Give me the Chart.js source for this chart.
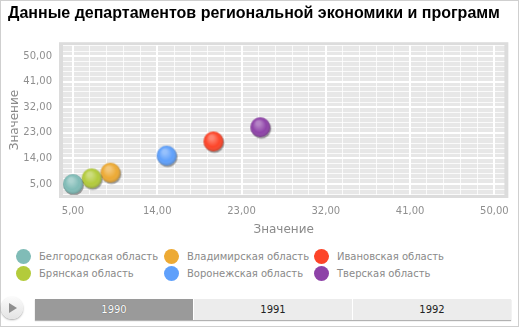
<!DOCTYPE html>
<html>
<head>
<meta charset="utf-8">
<script src="https://cdn.jsdelivr.net/npm/chart.js@4.4.1/dist/chart.umd.min.js"></script>
<style>
  html, body { margin: 0; padding: 0; background: #fff; }
  #wrap { position: relative; width: 519px; height: 327px; overflow: hidden; font-family: "DejaVu Sans", sans-serif; }
  #frame { position: absolute; left: 0; top: 0; width: 517px; height: 325px; border: 1px solid #cfcfcf; }
  #chartBox { position: absolute; left: 0; top: 0; width: 519px; height: 245px; }
  #legend { position: absolute; left: 16px; top: 248px; width: 480px; display: grid; grid-template-columns: 148px 150px 150px; grid-auto-flow: column; grid-template-rows: 17px 17px; }
  .item { display: flex; align-items: center; font-size: 10px; color: #8a8a8a; white-space: nowrap; }
  .dot { width: 15px; height: 15px; border-radius: 50%; margin-right: 8px; }
  #play { position: absolute; left: 1px; top: 297px; width: 22px; height: 22px; border-radius: 50%; background: linear-gradient(#fafafa, #e4e4e4); box-shadow: 0 1px 2px rgba(0,0,0,0.35); }
  #play:after { content: ""; position: absolute; left: 8px; top: 6px; border-left: 8px solid #8f8f8f; border-top: 5px solid transparent; border-bottom: 5px solid transparent; }
  #timeline { position: absolute; left: 35px; top: 299px; width: 476px; height: 21px; display: flex; box-shadow: 0 1px 1px rgba(0,0,0,0.3); }
  .yr { flex: 1; display: flex; align-items: center; justify-content: center; font-size: 10px; background: #ececec; color: #222; border-left: 1px solid #fff; }
  .yr.on { background: #9a9a9a; color: #fff; border-left: none; text-shadow: 0 0 1px #444; }
</style>
</head>
<body>
<div id="wrap">
  <div id="frame"></div>
  <div id="chartBox"><canvas id="chart" width="519" height="245"></canvas></div>
  <div id="legend"></div>
  <div id="play"></div>
  <div id="timeline"></div>
</div>
<script>
const regions = ["Белгородская область", "Брянская область", "Владимирская область",
                 "Воронежская область", "Ивановская область", "Тверская область"];
const xValues = [5, 7, 9, 15, 20, 25];
const yValues = [5, 7, 9, 15, 20, 25];
const colors = ["#80bcb7", "#b3cb3b", "#edaa34", "#5fa0fb", "#fd4428", "#8e42a8"];
const majorTicks = [5, 14, 23, 32, 41, 50];
const years = ["1990", "1991", "1992"];

// shaded ball used as point style
function makeBall(color) {
  const c = document.createElement("canvas");
  c.width = 26; c.height = 26;
  const g = c.getContext("2d");
  g.fillStyle = "rgba(0,0,0,0.35)";
  g.beginPath(); g.arc(14, 14.5, 10, 0, Math.PI * 2); g.fill();
  g.fillStyle = color;
  g.beginPath(); g.arc(13, 13, 10, 0, Math.PI * 2); g.fill();
  const shade = g.createRadialGradient(11, 9, 2, 13, 13, 10.5);
  shade.addColorStop(0, "rgba(255,255,255,0.35)");
  shade.addColorStop(0.6, "rgba(255,255,255,0)");
  shade.addColorStop(1, "rgba(0,0,0,0.25)");
  g.fillStyle = shade;
  g.beginPath(); g.arc(13, 13, 10, 0, Math.PI * 2); g.fill();
  return c;
}

function withMinors(scale) {
  const step = 1.8;
  const vals = [];
  for (let v = majorTicks[0]; v >= scale.min; v -= step) vals.unshift(Math.round(v * 10) / 10);
  for (let v = majorTicks[0] + step; v <= scale.max + 1e-9; v += step) vals.push(Math.round(v * 10) / 10);
  scale.ticks = vals.map(v => ({ value: v }));
}
const isMajor = v => majorTicks.some(m => Math.abs(m - v) < 1e-6);
const fmt = v => isMajor(v) ? v.toFixed(2).replace(".", ",") : "";

const plotFrame = {
  id: "plotFrame",
  beforeDraw(chart) {
    const { ctx, chartArea: a } = chart;
    ctx.save();
    ctx.fillStyle = "#dcdcdc";
    ctx.fillRect(a.left - 4, a.top - 3, a.right - a.left + 8, a.bottom - a.top + 6);
    ctx.fillStyle = "#e7e7e7";
    ctx.fillRect(a.left, a.top, a.right - a.left, a.bottom - a.top);
    ctx.restore();
  }
};

const gridOpts = {
  color: c => isMajor(c.tick.value) ? "#ffffff" : "rgba(255,255,255,0.8)",
  lineWidth: c => isMajor(c.tick.value) ? 2 : 1,
  drawTicks: false,
  drawOnChartArea: true
};

const chart = new Chart(document.getElementById("chart"), {
  type: "scatter",
  data: {
    datasets: regions.map((name, i) => ({
      label: name,
      data: [{ x: xValues[i], y: yValues[i] }],
      pointStyle: makeBall(colors[i]),
      backgroundColor: colors[i],
      borderColor: colors[i]
    }))
  },
  options: {
    responsive: false,
    animation: false,
    layout: { padding: { left: 8, right: 12, top: 0, bottom: 4 } },
    plugins: {
      legend: { display: false },
      tooltip: { enabled: false },
      title: {
        display: true,
        text: "Данные департаментов региональной экономики и программ",
        align: "start",
        color: "#000",
        font: { family: "Liberation Sans", size: 16, weight: "bold" },
        padding: { top: 4, bottom: 22 }
      }
    },
    scales: {
      x: {
        type: "linear",
        min: 3.94, max: 51.06,
        border: { display: false },
        grid: gridOpts,
        afterBuildTicks: withMinors,
        afterFit: s => { s.height = 46; },
        ticks: { autoSkip: false, maxRotation: 0, padding: 10, color: "#8f8f8f",
                 font: { family: "DejaVu Sans", size: 10 }, callback: fmt },
        title: { display: true, text: "Значение", color: "#8a8a8a", padding: { top: 4 },
                 font: { family: "DejaVu Sans", size: 12 } }
      },
      y: {
        type: "linear",
        min: 1.13, max: 53.87,
        border: { display: false },
        grid: gridOpts,
        afterBuildTicks: withMinors,
        afterFit: s => { s.width = 55; },
        ticks: { autoSkip: false, padding: 11, color: "#8f8f8f",
                 font: { family: "DejaVu Sans", size: 10 }, callback: fmt },
        title: { display: true, text: "Значение", color: "#8a8a8a", padding: 0,
                 font: { family: "DejaVu Sans", size: 12 } }
      }
    }
  },
  plugins: [plotFrame]
});

// legend, filled column by column
const legendEl = document.getElementById("legend");
chart.data.datasets.forEach(ds => {
  const item = document.createElement("div");
  item.className = "item";
  item.innerHTML = '<span class="dot" style="background:' + ds.borderColor + '"></span>' + ds.label;
  legendEl.appendChild(item);
});

// year slider
const tl = document.getElementById("timeline");
years.forEach((y, i) => {
  const d = document.createElement("div");
  d.className = "yr" + (i === 0 ? " on" : "");
  d.textContent = y;
  tl.appendChild(d);
});
</script>
</body>
</html>
